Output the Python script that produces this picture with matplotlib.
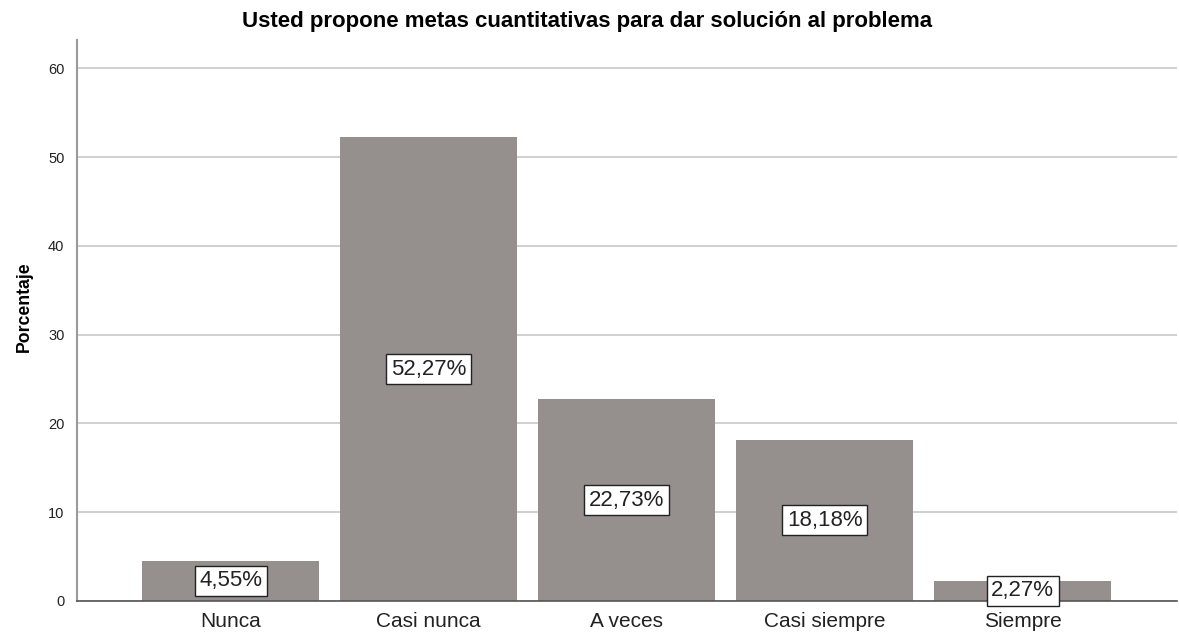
import numpy as np
import matplotlib
matplotlib.use('Agg')
import matplotlib.pyplot as plt

plt.rcParams['font.family'] = ['Liberation Sans', 'DejaVu Sans']

categorias = ['Nunca', 'Casi nunca', 'A veces', 'Casi siempre', 'Siempre']
porcentajes = [4.55, 52.27, 22.73, 18.18, 2.27]
etiquetas = ['4,55%', '52,27%', '22,73%', '18,18%', '2,27%']

fig = plt.figure(figsize=(11.79, 6.35), dpi=100)
ax = fig.add_axes([77/1179, 1 - 601/635, 1100/1179, (601 - 40)/635])

x = np.arange(len(categorias))
ax.bar(x, porcentajes, width=0.894, color='#958f8e', zorder=2)

for xi, v, t in zip(x, porcentajes, etiquetas):
    ax.text(xi, v / 2, t, ha='center', va='center', fontsize=16, color='#222222', zorder=3,
            bbox=dict(boxstyle='square,pad=0.2', facecolor='white', edgecolor='#222222', linewidth=1))

ax.set_xlim(-0.776, 4.78)
ax.set_ylim(0, 63.2)
ax.set_yticks([0, 10, 20, 30, 40, 50, 60])
ax.yaxis.grid(True, color='#c8c8c8', linewidth=1.2, zorder=0)
ax.set_axisbelow(True)

ax.set_xticks(x)
ax.set_xticklabels(categorias, fontsize=15, color='#222222')
ax.tick_params(axis='x', length=0, pad=8)
ax.tick_params(axis='y', length=0, labelsize=10.5, colors='#222222', pad=9)

for s in ['top', 'right']:
    ax.spines[s].set_visible(False)
ax.spines['left'].set_color('#9a9a9a')
ax.spines['left'].set_linewidth(1.5)
ax.spines['bottom'].set_color('#555555')
ax.spines['bottom'].set_linewidth(1.2)

ax.set_ylabel('Porcentaje', fontsize=12.7, fontweight='bold')
ax.yaxis.set_label_coords(-0.040, 0.524)
fig.text(587/1179, 1 - 22/635, 'Usted propone metas cuantitativas para dar solución al problema',
         ha='center', va='center', fontsize=16, fontweight='bold')

fig.savefig('out.png', dpi=100)
